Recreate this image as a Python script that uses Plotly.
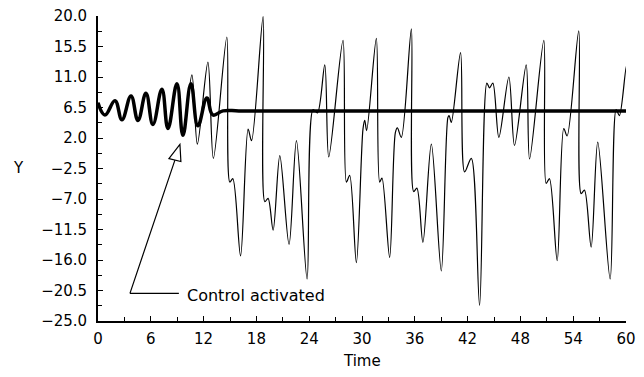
import plotly.graph_objects as go

# Controlled trajectory (thick line)
controlled_t = [0.0, 0.79, 1.93, 2.72, 3.75, 4.54, 5.45, 6.24, 7.26, 7.95, 8.97, 9.65,
                10.56, 11.35, 12.37, 13.05, 14.2, 16.0, 20.0, 30.0, 40.0, 50.0, 60.0]
controlled_y = [7.2, 5.4, 7.5, 4.7, 8.2, 4.6, 8.6, 4.0, 9.2, 3.4, 10.0, 2.4,
                10.0, 3.8, 7.9, 5.4, 6.0, 6.0, 6.0, 6.0, 6.0, 6.0, 6.0]

# Uncontrolled chaotic trajectory (thin line)
free_t = [0.0, 0.79, 1.93, 2.72, 3.75, 4.54, 5.45, 6.24, 7.26, 7.95, 8.97, 9.65,
          10.67, 11.29, 12.49, 13.11, 14.64, 14.98, 15.32, 16.2, 17.06, 17.45, 18.76,
          18.96, 19.33, 19.9, 20.66, 21.71, 22.55, 23.76, 24.44, 24.94, 25.77, 26.22,
          27.84, 28.23, 28.6, 29.36, 30.11, 30.31, 30.53, 31.63, 32.01, 32.27, 33.14,
          33.79, 34.02, 34.47, 35.61, 35.87, 36.24, 36.92, 37.88, 39.01, 39.76, 39.9,
          40.15, 41.2, 41.66, 42.42, 43.36, 44.19, 44.49, 44.87, 45.55, 46.69, 47.33,
          48.66, 49.04, 50.66, 50.93, 51.3, 52.18, 52.93, 53.31, 54.63, 54.9, 55.28,
          56.04, 56.79, 58.2, 58.88, 59.25, 60.08, 60.39]
free_y = [7.2, 5.4, 7.5, 4.7, 8.2, 4.6, 8.6, 4.0, 9.2, 3.4, 10.0, 2.4,
          11.3, 1.1, 13.2, -1.0, 16.9, -4.5, -4.0, -15.4, 3.3, 1.6, 19.9,
          -7.4, -6.9, -11.6, -0.6, -13.7, 1.6, -18.8, 6.2, 5.7, 12.8, -0.8,
          16.4, -4.5, -3.5, -16.4, 3.3, 4.6, 3.1, 16.7, -4.5, -3.9, -15.6,
          2.8, 3.5, 2.1, 18.1, -5.9, -5.4, -13.4, 1.1, -17.6, 5.0, 5.3,
          4.3, 14.6, -3.0, -1.0, -22.7, 10.1, 9.4, 10.1, 2.1, 11.0, 0.9,
          12.8, -1.1, 16.4, -4.7, -4.0, -16.1, 3.4, 2.3, 17.8, -6.2, -5.7,
          -14.1, 1.4, -18.8, 6.2, 5.3, 12.8, 8.6]

y_ticks = [20.0, 15.5, 11.0, 6.5, 2.0, -2.5, -7.0, -11.5, -16.0, -20.5, -25.0]
x_ticks = [0, 6, 12, 18, 24, 30, 36, 42, 48, 54, 60]

FONT = "DejaVu Sans"
FS = 15

fig = go.Figure()
fig.add_trace(go.Scatter(x=free_t, y=free_y, mode="lines",
                         line=dict(color="black", width=1.2, shape="spline", smoothing=0.9),
                         showlegend=False, hoverinfo="skip"))
fig.add_trace(go.Scatter(x=controlled_t, y=controlled_y, mode="lines",
                         line=dict(color="black", width=3.5, shape="spline", smoothing=1.2),
                         showlegend=False, hoverinfo="skip"))

# The page body adds an 8px offset, so the figure is 8px smaller and shifted
fig.update_layout(
    width=636, height=369,
    margin=dict(l=90, r=18, t=8, b=56, autoexpand=False),
    paper_bgcolor="white", plot_bgcolor="white",
    font=dict(family=FONT, size=FS, color="black"),
    xaxis=dict(range=[0, 60], tickvals=x_ticks, ticktext=[str(v) for v in x_ticks],
               ticks="inside", ticklen=5, tickwidth=1, tickcolor="black",
               minor=dict(dtick=3, tick0=0, ticks="inside", ticklen=4, tickcolor="black"),
               showline=True, linecolor="black", linewidth=1.8, automargin=False,
               showgrid=False, zeroline=False, ticklabelstandoff=3,
               ticklabeloverflow="allow"),
    yaxis=dict(range=[-25, 20], tickvals=y_ticks,
               ticktext=[f"{v:.1f}".replace("-", "\u2212") for v in y_ticks],
               ticks="inside", ticklen=5, tickwidth=1, tickcolor="black",
               minor=dict(dtick=2.25, tick0=-25, ticks="inside", ticklen=4, tickcolor="black"),
               showline=True, linecolor="black", linewidth=1.8, automargin=False,
               showgrid=False, zeroline=False, ticklabelstandoff=6,
               ticklabeloverflow="allow"),
)

# Arrow annotation
fig.add_shape(type="path", xref="x", yref="y",
              path="M 3.63,-20.92 L 9.19,-20.92 M 3.63,-20.92 L 8.74,-1.26",
              line=dict(color="black", width=1.2))
fig.add_shape(type="path", xref="x", yref="y",
              path="M 9.31,1.07 L 8.06,-1.04 L 9.42,-1.48 Z",
              line=dict(color="black", width=1.2), fillcolor="white")
fig.add_annotation(x=9.85, y=-21.21, xref="x", yref="y", text="Control activated",
                   showarrow=False, xanchor="left", yanchor="middle",
                   font=dict(family=FONT, size=16))
fig.add_annotation(x=-0.1515, y=0.5016, xref="paper", yref="paper", text="Y",
                   showarrow=False, xanchor="center", yanchor="middle",
                   font=dict(family=FONT, size=FS))
fig.add_annotation(x=0.5, y=-0.1327, xref="paper", yref="paper", text="Time",
                   showarrow=False, xanchor="center", yanchor="middle",
                   font=dict(family=FONT, size=FS))

fig.write_html("out.html")
